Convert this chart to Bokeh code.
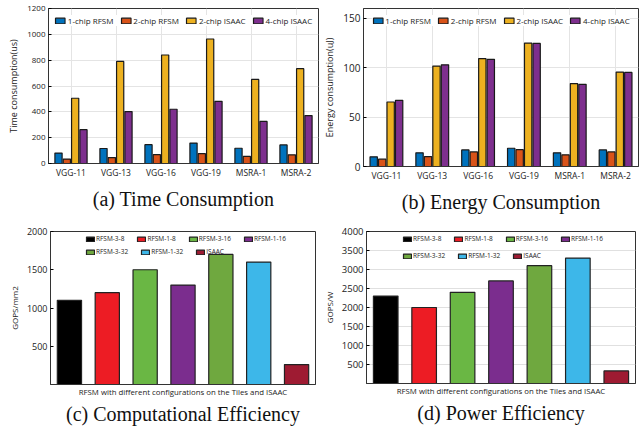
from bokeh.plotting import figure
from bokeh.models import (FactorRange, Range1d, Legend, LegendItem, FixedTicker,
                          ColumnDataSource)
from bokeh.transform import dodge
from bokeh.layouts import column, row
from bokeh.embed import file_html
from bokeh.resources import INLINE

# ---------------- data ----------------
networks = ["VGG-11", "VGG-13", "VGG-16", "VGG-19", "MSRA-1", "MSRA-2"]
series_names = ["1-chip RFSM", "2-chip RFSM", "2-chip ISAAC", "4-chip ISAAC"]

time_1chip_rfsm = [81, 116, 146, 158, 118, 144]
time_2chip_rfsm = [34, 46, 68, 76, 55, 67]
time_2chip_isaac = [505, 790, 840, 964, 651, 734]
time_4chip_isaac = [262, 402, 420, 481, 326, 371]

energy_1chip_rfsm = [9.8, 13.8, 16.8, 18.5, 13.8, 16.8]
energy_2chip_rfsm = [7.4, 10.0, 14.8, 17.0, 11.8, 14.8]
energy_2chip_isaac = [65.3, 101.7, 109.3, 125.0, 84.0, 95.6]
energy_4chip_isaac = [67.0, 103.0, 108.5, 124.6, 83.2, 95.3]

configs = ["RFSM-3-8", "RFSM-1-8", "RFSM-3-16", "RFSM-1-16",
           "RFSM-3-32", "RFSM-1-32", "ISAAC"]
gops_per_mm2 = [1100, 1200, 1500, 1300, 1700, 1600, 260]
gops_per_w = [2300, 2000, 2400, 2700, 3100, 3300, 330]

time_ticks = [0, 200, 400, 600, 800, 1000, 1200]
energy_ticks = [0, 50, 100, 150]
mm2_ticks = [500, 1000, 1500, 2000]
w_ticks = [500, 1000, 1500, 2000, 2500, 3000, 3500, 4000]

# ---------------- styles ----------------
SANS = "Open Sans"
SERIF = "Liberation Serif"
group_colors = ["#0072BD", "#D95319", "#EDB120", "#7E2F8E"]
config_colors = ["#000000", "#ED1C24", "#6AB744", "#7B2D8E",
                 "#6FA83F", "#3DB7E9", "#9E1B32"]


def style_common(p, ytick_size, ylabel_size, title_standoff):
    p.title.text_font = SERIF
    p.title.text_font_size = "20px"
    p.title.text_font_style = "normal"
    p.title.align = "center"
    p.title.text_color = "#111111"
    p.title.standoff = title_standoff
    p.outline_line_color = "#333333"
    p.outline_line_width = 1
    p.yaxis.axis_line_color = "#333333"
    p.xaxis.axis_line_color = "#333333"
    p.yaxis.major_tick_in = 3
    p.yaxis.major_tick_out = 0
    p.yaxis.minor_tick_line_color = None
    p.yaxis.major_label_text_font = SANS
    p.yaxis.major_label_text_font_size = ytick_size
    p.yaxis.major_label_text_color = "#222222"
    p.yaxis.major_label_standoff = 3
    p.yaxis.axis_label_text_font = SANS
    p.yaxis.axis_label_text_font_size = ylabel_size
    p.yaxis.axis_label_text_font_style = "normal"
    p.yaxis.axis_label_text_color = "#222222"
    p.yaxis.axis_label_standoff = 4
    p.xaxis.major_tick_line_color = None
    p.xaxis.major_tick_in = 0
    p.xaxis.major_tick_out = 0
    p.xaxis.minor_tick_line_color = None


def grouped(vals, ylabel, yend, ticks, caption, fw, fh, borders, ytick_size):
    src = ColumnDataSource(dict(net=networks, s0=vals[0], s1=vals[1],
                                s2=vals[2], s3=vals[3]))
    p = figure(x_range=FactorRange(*networks), y_range=Range1d(0, yend),
               frame_width=fw, frame_height=fh, output_backend="svg",
               toolbar_location=None, title=caption, title_location="below")
    p.min_border_left, p.min_border_right, p.min_border_top, p.min_border_bottom = borders
    offsets = [-0.2775, -0.0925, 0.0925, 0.2775]
    items = []
    for i in range(4):
        r = p.vbar(x=dodge("net", offsets[i], range=p.x_range), top="s%d" % i,
                   width=0.16, source=src, fill_color=group_colors[i],
                   line_color="#1a1a1a", line_width=1.2)
        items.append(LegendItem(label=series_names[i], renderers=[r]))
    leg = Legend(items=items, orientation="horizontal", location="top_center",
                 label_text_font=SANS, label_text_font_size="8px",
                 label_text_color="#222222",
                 glyph_width=12, glyph_height=7, label_standoff=2, spacing=6,
                 padding=2, margin=7, border_line_color=None,
                 background_fill_color="white", background_fill_alpha=1.0,
                 label_height=8)
    p.add_layout(leg)
    style_common(p, ytick_size, "9px", 11)
    p.yaxis.ticker = FixedTicker(ticks=ticks)
    p.yaxis.axis_label = ylabel
    p.xaxis.major_label_text_font = SANS
    p.xaxis.major_label_text_font_size = "8.5px"
    p.xaxis.major_label_text_color = "#222222"
    p.xaxis.major_label_standoff = 3
    p.xgrid.grid_line_color = "#e4e4e4"
    p.ygrid.grid_line_color = "#e4e4e4"
    p.x_range.range_padding = 0.0
    return p


def single(vals, ylabel, yend, ticks, caption, fw, fh, borders, grid,
           leg_x, leg_y1, leg_y2, ytick_size):
    p = figure(x_range=FactorRange(*configs), y_range=Range1d(0, yend),
               frame_width=fw, frame_height=fh, output_backend="svg",
               toolbar_location=None, title=caption, title_location="below")
    p.min_border_left, p.min_border_right, p.min_border_top, p.min_border_bottom = borders
    items = []
    for i, name in enumerate(configs):
        s = ColumnDataSource(dict(cfg=[name], v=[vals[i]]))
        r = p.vbar(x="cfg", top="v", width=0.64, source=s,
                   fill_color=config_colors[i], line_color="#222222",
                   line_width=1.2)
        items.append(LegendItem(label=name, renderers=[r]))
    for its, ly in ((items[:4], leg_y1), (items[4:], leg_y2)):
        leg = Legend(items=its, orientation="horizontal", location=(leg_x, ly),
                     label_text_font=SANS, label_text_font_size="6.5px",
                     label_text_color="#222222",
                     glyph_width=10, glyph_height=6, label_standoff=1, spacing=12,
                     padding=0, margin=0, border_line_color=None,
                     background_fill_alpha=0.0, label_height=8)
        p.add_layout(leg)
    style_common(p, ytick_size, "8px", 3)
    p.yaxis.ticker = FixedTicker(ticks=ticks)
    p.yaxis.axis_label = ylabel
    p.xaxis.major_label_text_font_size = "0px"
    p.xaxis.major_label_text_color = None
    p.xaxis.major_label_standoff = 0
    p.xaxis.axis_label = "RFSM with different configurations on the Tiles and ISAAC"
    p.xaxis.axis_label_text_font = SANS
    p.xaxis.axis_label_text_font_size = "7.8px"
    p.xaxis.axis_label_text_font_style = "normal"
    p.xaxis.axis_label_text_color = "#222222"
    p.xaxis.axis_label_standoff = 2
    p.xgrid.grid_line_color = None
    p.ygrid.grid_line_color = "#e0e0e0" if grid else None
    p.x_range.range_padding = 0.0
    return p


pa = grouped([time_1chip_rfsm, time_2chip_rfsm, time_2chip_isaac, time_4chip_isaac],
             "Time consumption(us)", 1200, time_ticks, "(a) Time Consumption",
             270, 155, (48, 2, 8, 47), "8px")
pb = grouped([energy_1chip_rfsm, energy_2chip_rfsm, energy_2chip_isaac, energy_4chip_isaac],
             "Energy consumption(uJ)", 160, energy_ticks, "(b) Energy Consumption",
             275, 158, (37, 7, 5, 47), "10px")
pc = single(gops_per_mm2, "GOPS/mm2", 2000, mm2_ticks, "(c) Computational Efficiency",
            265, 153, (50, 5, 16, 53), False, 35, 141, 128, "9px")
pd = single(gops_per_w, "GOPS/W", 4000, w_ticks, "(d) Power Efficiency",
            269, 152, (43, 7, 15, 55), True, 36, 140, 123, "9.5px")

layout = column(row(pa, pb), row(pc, pd))
open("out.html", "w").write(file_html(layout, INLINE))
